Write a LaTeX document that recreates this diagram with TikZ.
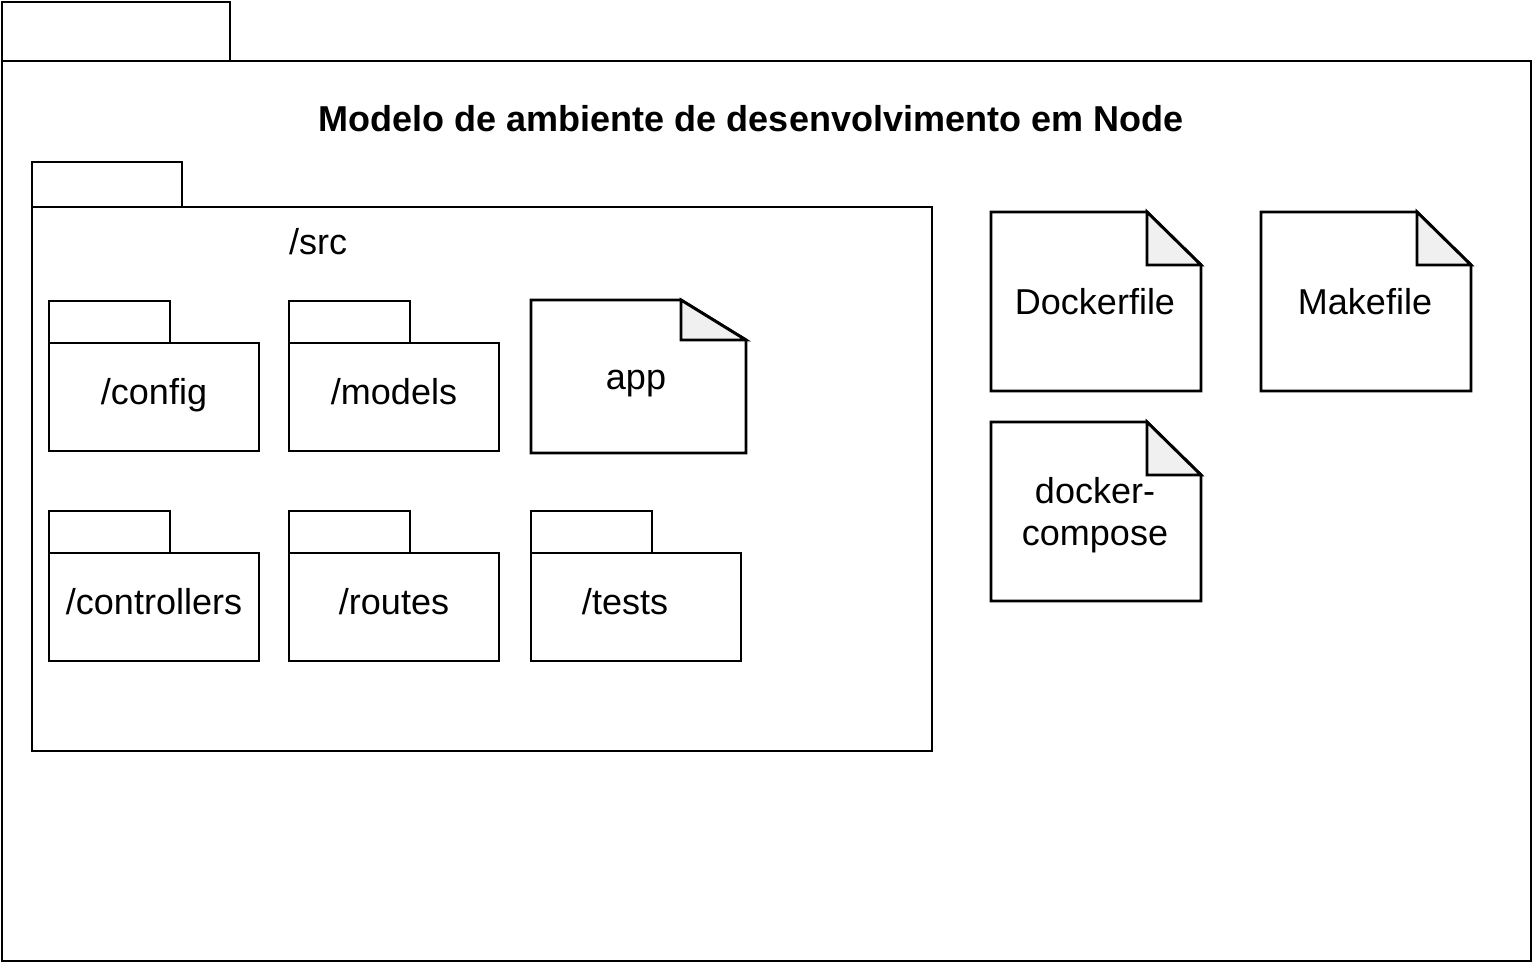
\documentclass[tikz,border=0pt]{standalone}
\usepackage{fontspec}
\setmainfont{Liberation Sans}
\begin{document}
\begin{tikzpicture}[x=1pt,y=-1pt,
  box/.style={draw=black,line width=2.9pt,fill=white,line join=miter},
  fold/.style={draw=black,line width=2.9pt,fill=black!6,line join=miter},
  lbl/.style={inner sep=0pt,anchor=base,font=\fontsize{36}{42}\selectfont},
  ttl/.style={inner sep=0pt,anchor=base,font=\fontsize{36}{42}\selectfont\bfseries}]
\useasboundingbox (0,0) rectangle (1533,963);
\fill[white] (0,0) rectangle (1533,963);
% outer package
\draw[box] (2,2) rectangle (230,61);
\draw[box] (2,61) rectangle (1531,961);
\node[ttl] (title) at (751,131.5) {Modelo de ambiente de desenvolvimento em Node};
% /src package
\draw[box] (32,162) rectangle (182,207);
\draw[box] (32,207) rectangle (932,751);
\node[lbl] (src) at (318,254.5) {/src};
% sub packages
\newcommand{\pkgbox}[4]{%
  \draw[box] (#1,#2) rectangle ++(121,42);
  \draw[box] (#1,#2+42) rectangle ++(210,108);
  \node[lbl] (#3) at (#1+105,#2+103.5) {#4};}
\pkgbox{49}{301}{config}{/config}
\pkgbox{289}{301}{models}{/models}
\pkgbox{49}{511}{controllers}{/controllers}
\pkgbox{289}{511}{routes}{/routes}
\draw[box] (531,511) rectangle ++(121,42);
\draw[box] (531,553) rectangle ++(210,108);
\node[lbl] (tests) at (625,614.5) {/tests};
% app note
\draw[box] (531,300) -- (681,300) -- (746,340) -- (746,453) -- (531,453) -- cycle;
\draw[fold] (681,300) -- (681,340) -- (746,340) -- cycle;
\node[lbl] (app) at (636,389) {app};
% notes on right
\newcommand{\notebox}[2]{%
  \draw[box] (#1,#2) -- (#1+156,#2) -- (#1+210,#2+53) -- (#1+210,#2+179) -- (#1,#2+179) -- cycle;
  \draw[fold] (#1+156,#2) -- (#1+156,#2+53) -- (#1+210,#2+53) -- cycle;}
\notebox{991}{212}
\node[lbl] (dockerfile) at (1095,314.5) {Dockerfile};
\notebox{1261}{212}
\node[lbl] (makefile) at (1365,314.5) {Makefile};
\notebox{991}{422}
\node[lbl] (docker) at (1095,503.5) {docker-};
\node[lbl] (compose) at (1095,545.5) {compose};
\end{tikzpicture}
\end{document}
